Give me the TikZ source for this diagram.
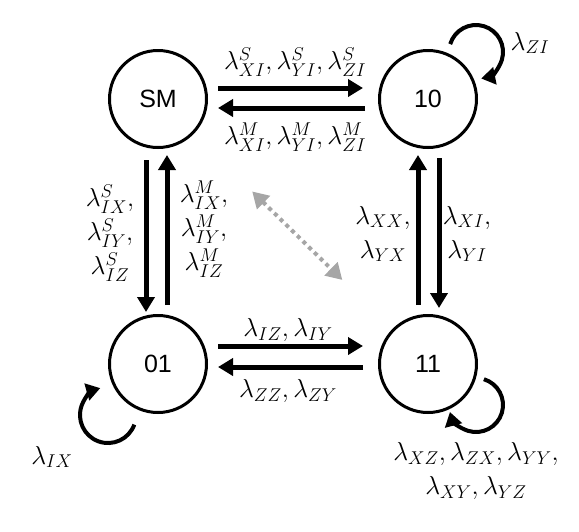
\RequirePackage{fix-cm}
\documentclass[tikz,border=0pt]{standalone}
\usepackage{fontspec}
\newfontfamily\nodesans{Liberation Sans}
\usetikzlibrary{arrows.meta}
\DeclareMathSizes{26}{26}{18.5}{14}
\definecolor{dotgray}{HTML}{A6A6A6}
\tikzset{
  state/.style={circle, draw, line width=3pt, minimum size=97pt, inner sep=0pt,
    font=\nodesans\fontsize{25}{30}\selectfont},
  big/.style={line width=5pt, -{Triangle[length=15pt,width=17pt]}},
  loopy/.style={line width=4pt, -{Triangle[length=14pt,width=17pt]}},
  lab/.style={font=\fontsize{26}{34}\selectfont, align=center, inner sep=0pt},
  dbl/.style={line width=4pt, draw=dotgray, dash pattern=on 4pt off 4pt,
    {Triangle[length=16pt,width=18pt,fill=dotgray]}-{Triangle[length=16pt,width=18pt,fill=dotgray]}}
}
\begin{document}
\begin{tikzpicture}[x=1pt,y=-1pt]
\useasboundingbox (0,0) rectangle (579,531);
\node[state] (sm)  at (158,99)  {SM};
\node[state] (n10) at (428,99)  {10};
\node[state] (n01) at (158,364) {01};
\node[state] (n11) at (428,364) {11};

% top pair
\draw[big, shorten <=10pt, shorten >=15pt] ([yshift=11pt]sm.east) -- ([yshift=11pt]n10.west);
\draw[big, shorten <=13pt, shorten >=10pt] ([yshift=-9pt]n10.west) -- ([yshift=-9pt]sm.east);
% bottom pair
\draw[big, shorten <=10pt, shorten >=15pt] ([yshift=18pt]n01.east) -- ([yshift=18pt]n11.west);
\draw[big, shorten <=15pt, shorten >=10pt] ([yshift=-3pt]n11.west) -- ([yshift=-3pt]n01.east);
% left pair
\draw[big, shorten <=11pt, shorten >=2pt] ([xshift=-12pt]sm.south) -- ([xshift=-12pt]n01.north);
\draw[big, shorten <=9pt, shorten >=6pt] ([xshift=9pt]n01.north) -- ([xshift=9pt]sm.south);
% right pair
\draw[big, shorten <=9pt, shorten >=6pt] ([xshift=-10pt]n11.north) -- ([xshift=-10pt]n10.south);
\draw[big, shorten <=9pt, shorten >=6pt] ([xshift=11pt]n10.south) -- ([xshift=11pt]n11.north);
% diagonal
\draw[dbl, shorten <=82pt, shorten >=70pt] (sm) -- (n11);

% self loops
\coordinate (l10) at (450.2,44.1);
\coordinate (l01) at (134.3,424.6);
\coordinate (l11) at (483.9,379.2);
\draw[loopy] (l10) arc[start angle=197, end angle=439, radius=27];
\draw[loopy] (l01) arc[start angle=20, end angle=254, radius=28];
\draw[loopy] (l11) arc[start angle=-73, end angle=165, radius=27];

% labels
\node[lab] (t1) at (295,62)  {$\lambda^S_{XI},\lambda^S_{YI},\lambda^S_{ZI}$};
\node[lab] (t2) at (295,137) {$\lambda^M_{XI},\lambda^M_{YI},\lambda^M_{ZI}$};
\node[lab] (t3) at (110,233) {$\lambda^S_{IX},$\\$\lambda^S_{IY},$\\$\lambda^S_{IZ}$};
\node[lab] (t4) at (204,229) {$\lambda^M_{IX},$\\$\lambda^M_{IY},$\\$\lambda^M_{IZ}$};
\node[lab] (t5) at (383,234) {$\lambda_{XX},$\\$\lambda_{YX}$};
\node[lab] (t6) at (467,234) {$\lambda_{XI},$\\$\lambda_{YI}$};
\node[lab] (t7) at (288,330) {$\lambda_{IZ},\lambda_{IY}$};
\node[lab] (t8) at (288,391) {$\lambda_{ZZ},\lambda_{ZY}$};
\node[lab] (t9) at (530,43)  {$\lambda_{ZI}$};
\node[lab] (t10) at (52,457) {$\lambda_{IX}$};
\node[lab] (t11) at (476,471) {$\lambda_{XZ},\lambda_{ZX},\lambda_{YY},$\\$\lambda_{XY},\lambda_{YZ}$};
\end{tikzpicture}
\end{document}
